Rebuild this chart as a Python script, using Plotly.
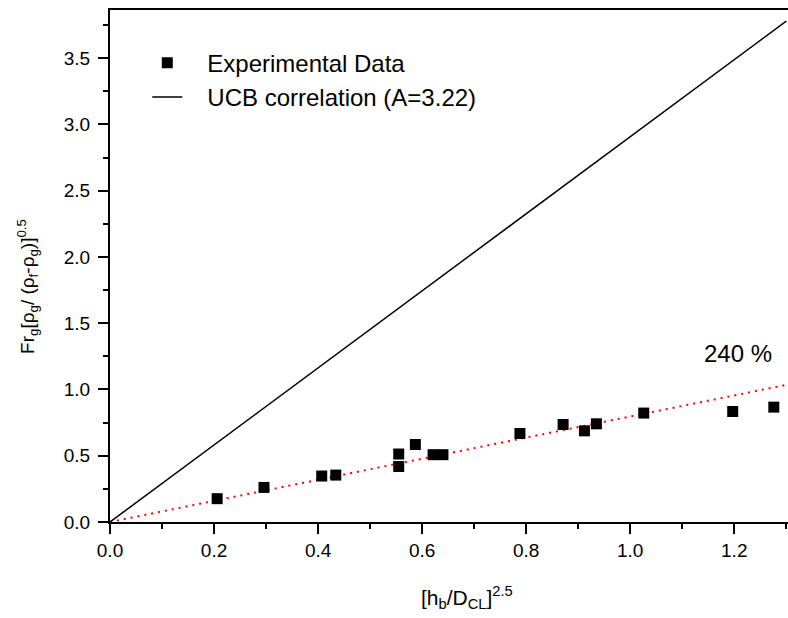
import plotly.graph_objects as go

# Experimental points: [h_b/D_CL]^2.5 vs. Fr_g[rho_g/(rho_f-rho_g)]^0.5
exp_x = [0.206, 0.296, 0.407, 0.434, 0.555, 0.555, 0.587, 0.621, 0.640,
         0.788, 0.871, 0.912, 0.935, 1.026, 1.197, 1.276]
exp_y = [0.176, 0.261, 0.347, 0.354, 0.513, 0.419, 0.585, 0.508, 0.508,
         0.668, 0.736, 0.688, 0.741, 0.822, 0.834, 0.867]

# UCB correlation line (A=3.22)
ucb_x = [0.0, 1.3]
ucb_y = [0.0, 3.78]

# Linear fit through the data (red dotted)
fit_x = [0.0, 1.3]
fit_y = [0.0, 1.035]

# Ratio label
ratio_label = "240 %"
ratio_pos = (1.207, 1.27)

x_title = "[h<sub>b</sub>/D<sub>CL</sub>]<sup>2.5</sup>"
y_title = ("Fr<sub>g</sub>[\u03c1<sub>g</sub>/ (\u03c1<sub>f</sub>-"
           "\u03c1<sub>g</sub>)]<sup>0.5</sup>")

FONT = "Arial, Liberation Sans, sans-serif"
NB = "\u00a0" * 3

fig = go.Figure()

fig.add_trace(go.Scatter(
    x=fit_x, y=fit_y, mode="lines", showlegend=False,
    line=dict(color="#ff0000", width=2, dash="2px,5px"),
))
fig.add_trace(go.Scatter(
    x=exp_x, y=exp_y, mode="markers", name=NB + "Experimental Data",
    marker=dict(symbol="square", size=11, color="black",
                line=dict(width=0)),
    legendgroup="a",
))
fig.add_trace(go.Scatter(
    x=ucb_x, y=ucb_y, mode="lines", name=NB + "UCB correlation (A=3.22)",
    line=dict(color="black", width=1.5),
    legendgroup="b",
))

fig.add_annotation(
    x=ratio_pos[0], y=ratio_pos[1], text=ratio_label, showarrow=False,
    font=dict(family=FONT, size=24, color="black"),
    xanchor="center", yanchor="middle",
)

# Axis titles placed as paper-referenced annotations
fig.add_annotation(
    xref="paper", yref="paper", x=0.527, y=-0.148, text=x_title,
    showarrow=False, xanchor="center", yanchor="middle",
    font=dict(family=FONT, size=21, color="black"),
)
fig.add_annotation(
    xref="paper", yref="paper", x=-0.121, y=0.461, text=y_title,
    showarrow=False, xanchor="center", yanchor="middle", textangle=-90,
    font=dict(family=FONT, size=19, color="black"),
)

axis_common = dict(
    showgrid=False, zeroline=False,
    showline=True, linecolor="black", linewidth=2,
    ticks="outside", ticklen=10, tickwidth=2, tickcolor="black",
    tickfont=dict(family=FONT, size=19, color="black"),
)

fig.update_layout(
    width=788, height=618,
    margin=dict(l=110, r=0, t=10, b=96),
    paper_bgcolor="white", plot_bgcolor="white",
    font=dict(family=FONT, color="black"),
    xaxis=dict(
        range=[0, 1.3033], tick0=0, dtick=0.2, tickformat=".1f",
        mirror=True,
        minor=dict(dtick=0.1, ticklen=5, tickwidth=2, tickcolor="black",
                   ticks="outside", showgrid=False),
        **axis_common,
    ),
    yaxis=dict(
        range=[0, 3.864], tick0=0, dtick=0.5, tickformat=".1f",
        ticklabelstandoff=4,
        minor=dict(dtick=0.25, ticklen=5, tickwidth=2, tickcolor="black",
                   ticks="outside", showgrid=False),
        **axis_common,
    ),
    legend=dict(
        x=0.055, y=0.94, xanchor="left", yanchor="top",
        bgcolor="rgba(0,0,0,0)", borderwidth=0,
        font=dict(family=FONT, size=24, color="black"),
        tracegroupgap=0,
    ),
)

fig.write_html("out.html")
